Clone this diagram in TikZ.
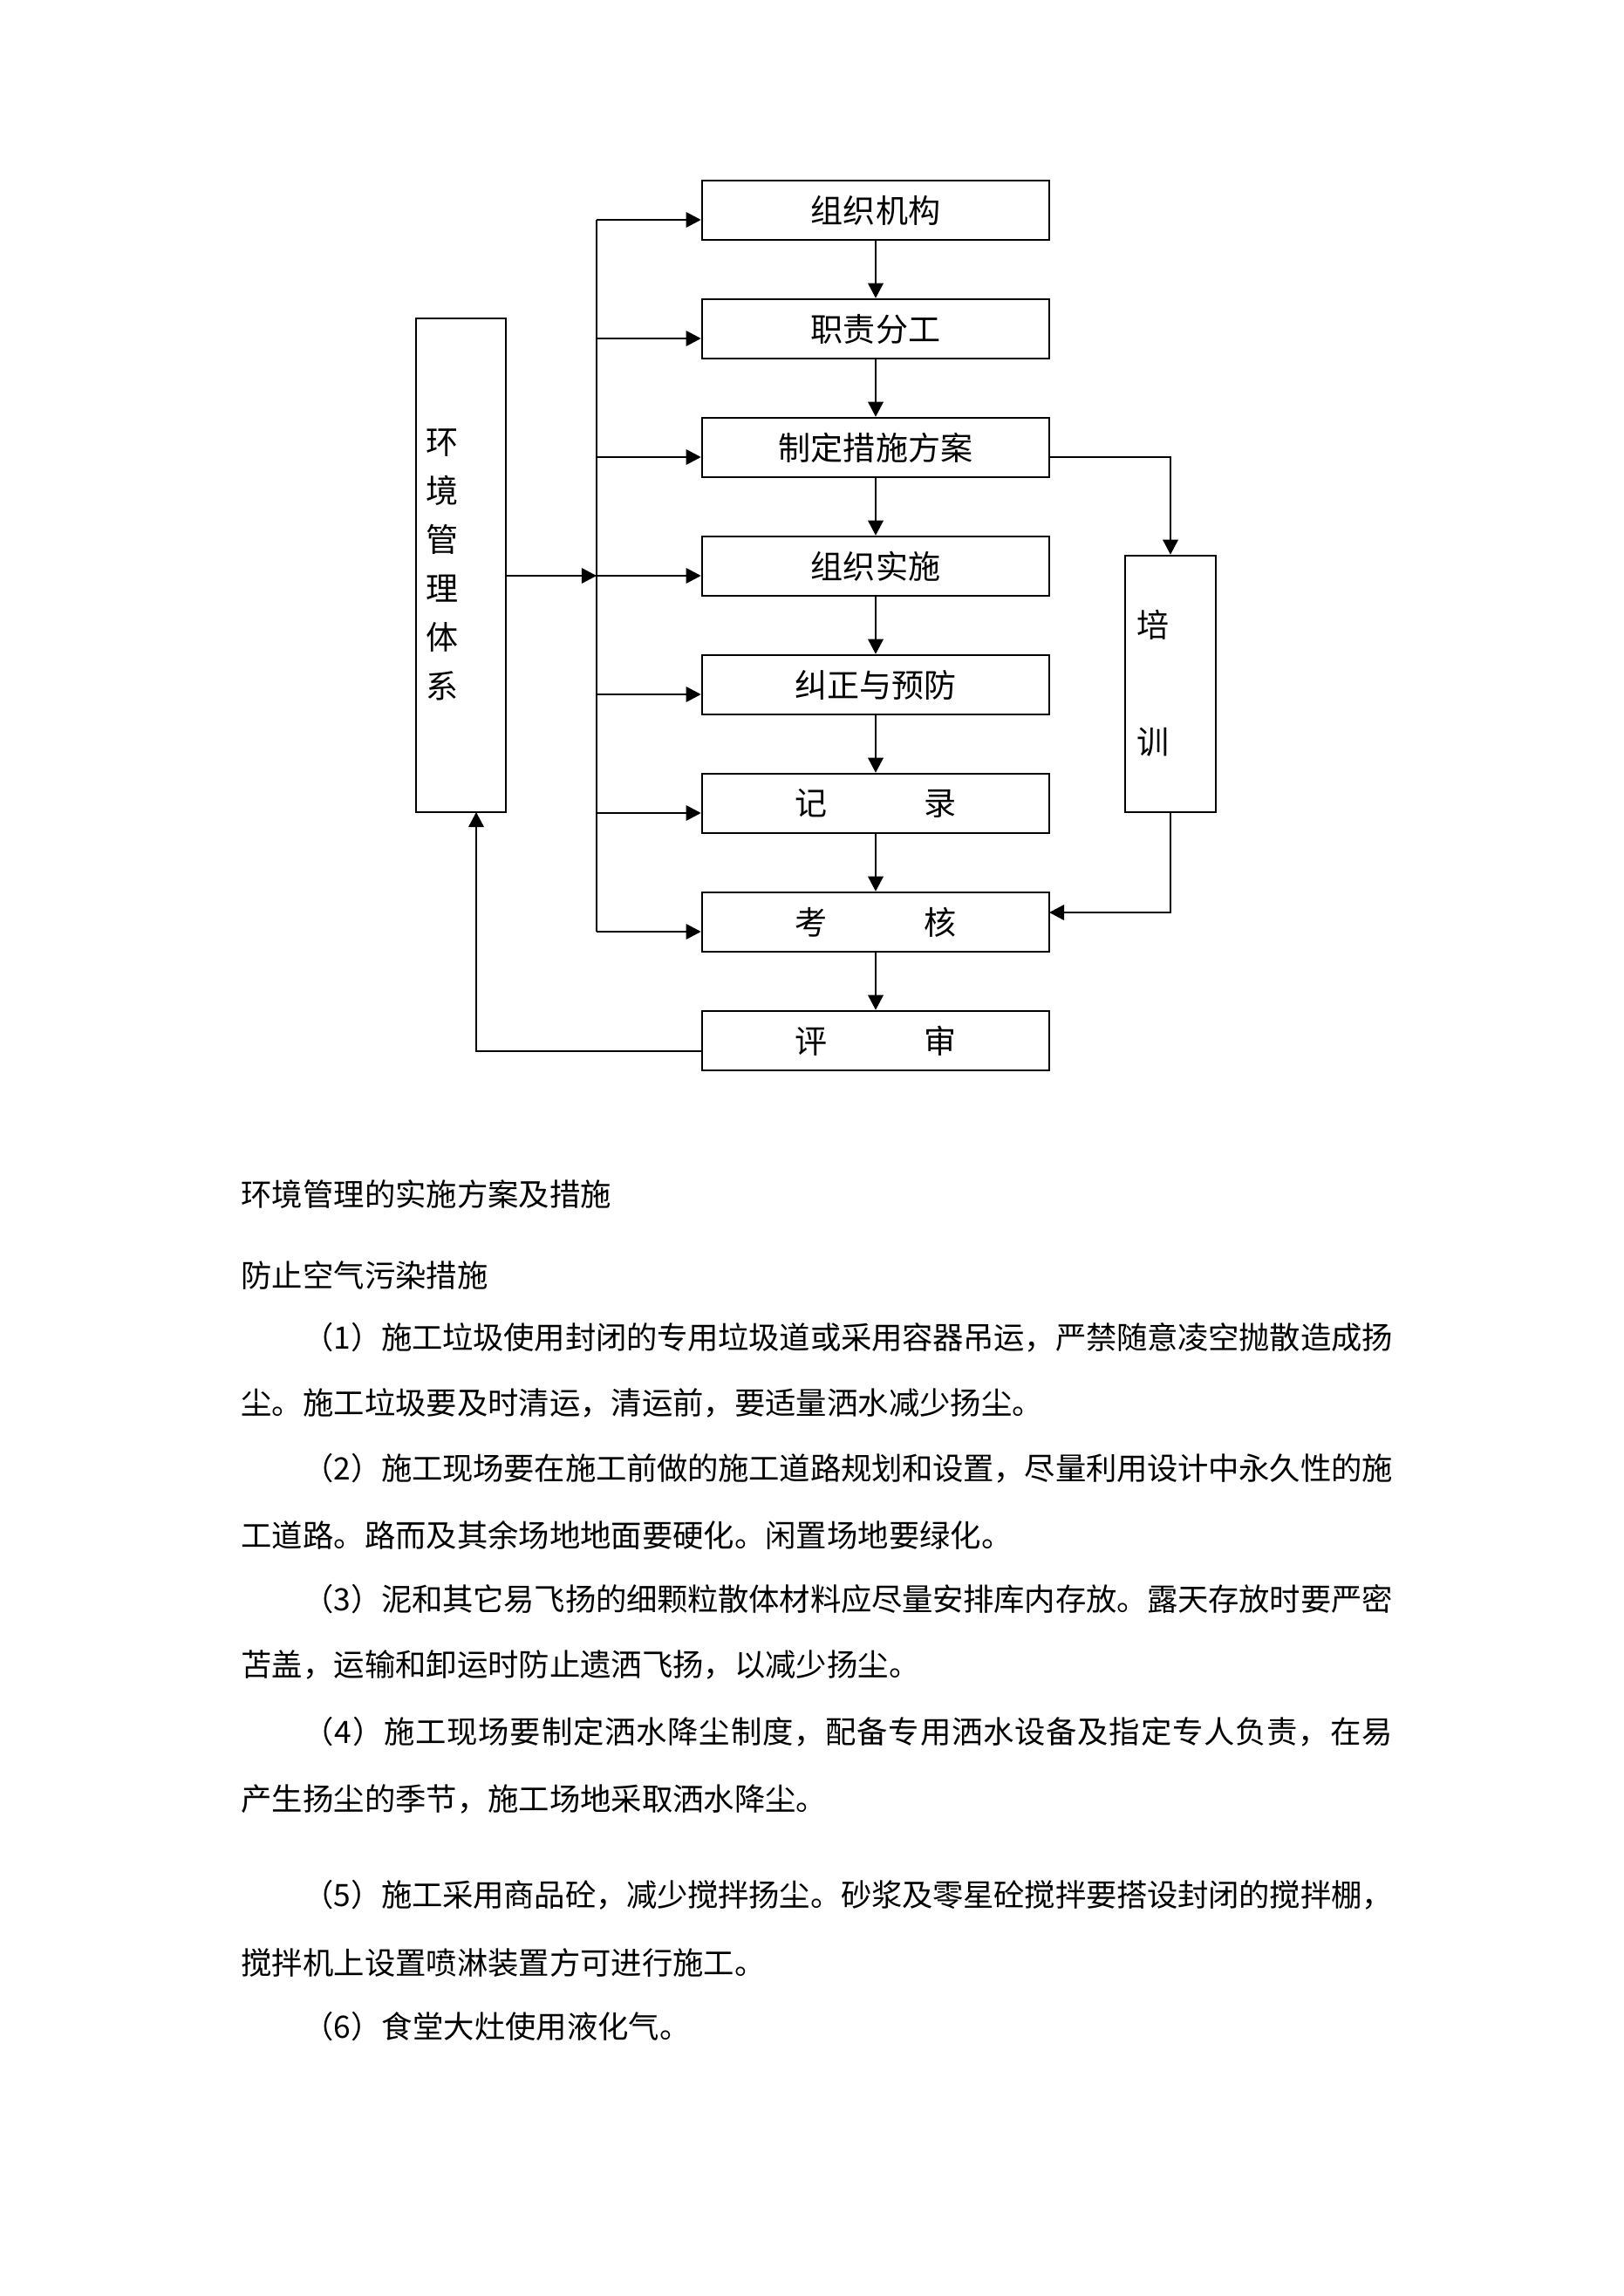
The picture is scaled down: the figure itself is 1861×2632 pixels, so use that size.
\documentclass[tikz,border=0pt]{standalone}
\usepackage{fontspec}
\newfontfamily\cjk{Noto Sans CJK SC}
\usetikzlibrary{arrows.meta}
\newcommand\bdfont{\cjk\fontsize{11.35pt}{14pt}\selectfont}
\newcommand\bxfont{\cjk\fontsize{11.9pt}{14pt}\selectfont}
% spread the characters of one line over a fixed width
\def\spreadline#1{\spreadA#1\relax}
\def\spreadA#1{#1\spreadB}
\def\spreadB#1{\ifx\relax#1\else\hskip 0pt plus 1fil minus 1pt #1\expandafter\spreadB\fi}
\tikzset{
  box/.style={draw, line width=0.8pt, minimum width=127.8pt, minimum height=21.8pt, inner sep=0pt, font=\bxfont},
  tallbox/.style={draw, line width=0.8pt, inner sep=0pt},
  arr/.style={line width=0.8pt, -{Triangle[length=5.5pt,width=5.6pt]}},
  ln/.style={line width=0.8pt},
  bodyline/.style={anchor=base west, inner sep=0pt, font=\bdfont},
}
\begin{document}
\begin{tikzpicture}[x=0.32106pt,y=-0.32106pt]
\useasboundingbox (0,0) rectangle (1861,2632);
\fill[white] (0,0) rectangle (1861,2632);

% main column of boxes
\node[box] (b1) at (1004,241) {组织机构};
\node[box] (b2) at (1004,377) {职责分工};
\node[box] (b3) at (1004,513) {制定措施方案};
\node[box] (b4) at (1004,649) {组织实施};
\node[box] (b5) at (1004,785) {纠正与预防};
\node[box] (b6) at (1004,921) {记\hspace{3em}录};
\node[box] (b7) at (1004,1057) {考\hspace{3em}核};
\node[box] (b8) at (1004,1193) {评\hspace{3em}审};

% side boxes
\node[tallbox, minimum width=33.1pt, minimum height=181.7pt] (env) at (528.5,648) {};
\node[inner sep=0pt, align=center, font={\cjk\fontsize{11.9pt}{17.98pt}\selectfont}] (envtext) at (507,647) {环\\境\\管\\理\\体\\系};
\node[tallbox, minimum width=33.4pt, minimum height=94.4pt] (train) at (1342,784) {};
\node[inner sep=0pt, align=center, font={\cjk\fontsize{11.9pt}{43pt}\selectfont}] (traintext) at (1322,783) {培\\训};

% vertical flow
\draw[arr] (b1) -- (b2);
\draw[arr] (b2) -- (b3);
\draw[arr] (b3) -- (b4);
\draw[arr] (b4) -- (b5);
\draw[arr] (b5) -- (b6);
\draw[arr] (b6) -- (b7);
\draw[arr] (b7) -- (b8);

% bus on the left
\coordinate (t1) at (684,252);
\coordinate (t2) at (684,388);
\coordinate (t3) at (684,524);
\coordinate (t4) at (684,660);
\coordinate (t5) at (684,796);
\coordinate (t6) at (684,932);
\coordinate (t7) at (684,1068);
\draw[ln] (t1) -- (t7);
\draw[arr] (t1) -- (t1 -| b1.west);
\draw[arr] (t2) -- (t2 -| b2.west);
\draw[arr] (t3) -- (t3 -| b3.west);
\draw[arr] (t4) -- (t4 -| b4.west);
\draw[arr] (t5) -- (t5 -| b5.west);
\draw[arr] (t6) -- (t6 -| b6.west);
\draw[arr] (t7) -- (t7 -| b7.west);

% environment system to bus
\coordinate (e1) at (580,660);
\draw[arr] (e1) -- (t4);

% plan -> training -> assessment
\coordinate (p3) at (1203,524);
\draw[arr] (p3) -| (train.north);
\coordinate (k7) at (1203,1046);
\draw[arr] (train.south) |- (k7);

% review -> environment system
\coordinate (r8) at (805,1205);
\coordinate (envin) at (546,931);
\draw[arr] (r8) -| (envin);

% body text
\node[bodyline] (l1) at (276,1382) {环境管理的实施方案及措施};
\node[bodyline] (l2) at (276,1475) {防止空气污染措施};
\node[bodyline] (l3) at (347,1546) {\hbox to 401pt{\spreadline{（1）施工垃圾使用封闭的专用垃圾道或采用容器吊运，严禁随意凌空抛散造成扬}}};
\node[bodyline] (l4) at (276,1621) {尘。施工垃圾要及时清运，清运前，要适量洒水减少扬尘。};
\node[bodyline] (l5) at (347,1696) {\hbox to 401pt{\spreadline{（2）施工现场要在施工前做的施工道路规划和设置，尽量利用设计中永久性的施}}};
\node[bodyline] (l6) at (276,1773) {工道路。路而及其余场地地面要硬化。闲置场地要绿化。};
\node[bodyline] (l7) at (347,1846) {\hbox to 401pt{\spreadline{（3）泥和其它易飞扬的细颗粒散体材料应尽量安排库内存放。露天存放时要严密}}};
\node[bodyline] (l8) at (276,1921) {苫盖，运输和卸运时防止遗洒飞扬，以减少扬尘。};
\node[bodyline] (l9) at (347,1998) {\hbox to 401pt{\spreadline{（4）施工现场要制定洒水降尘制度，配备专用洒水设备及指定专人负责，在易}}};
\node[bodyline] (l10) at (276,2075) {产生扬尘的季节，施工场地采取洒水降尘。};
\node[bodyline] (l11) at (347,2185) {\hbox to 401pt{\spreadline{（5）施工采用商品砼，减少搅拌扬尘。砂浆及零星砼搅拌要搭设封闭的搅拌棚，}}};
\node[bodyline] (l12) at (276,2263) {搅拌机上设置喷淋装置方可进行施工。};
\node[bodyline] (l13) at (347,2336) {（6）食堂大灶使用液化气。};
\end{tikzpicture}
\end{document}
